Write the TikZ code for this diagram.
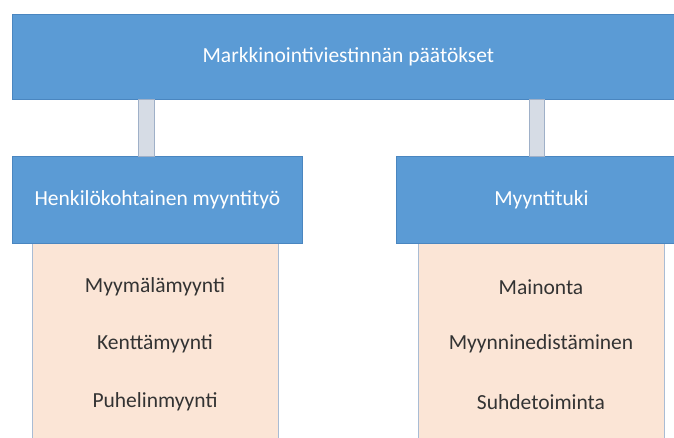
\documentclass[tikz,border=0pt]{standalone}
\usepackage{fontspec}
\setmainfont{Carlito}
\definecolor{hblue}{HTML}{5B9BD5}
\definecolor{hblueline}{HTML}{4A86C0}
\definecolor{barfill}{HTML}{D6DCE5}
\definecolor{barline}{HTML}{9FB0C8}
\definecolor{pinkfill}{HTML}{FBE5D6}
\definecolor{pinkline}{HTML}{A9BCD4}
\definecolor{itemtext}{HTML}{333333}
\tikzset{
  bluebox/.style={draw=hblueline, line width=0.8pt, fill=hblue, text=white, inner sep=0pt, font=\fontsize{21.5}{24}\selectfont},
  pinkbox/.style={draw=pinkline, line width=0.8pt, fill=pinkfill, inner sep=0pt},
  itemlabel/.style={text=itemtext, inner sep=0pt, font=\fontsize{21.5}{24}\selectfont},
  barstyle/.style={draw=barline, line width=0.8pt, fill=barfill}
}
\begin{document}
\begin{tikzpicture}[x=1pt, y=-1pt]
\useasboundingbox (0,0) rectangle (674,437);
\clip (0,0) rectangle (674,437);
% pink lists
\node[pinkbox, minimum width=246pt, minimum height=200pt, anchor=north west] (lp) at (32,243) {};
\node[pinkbox, minimum width=246pt, minimum height=200pt, anchor=north west] (rp) at (418,243) {};
% top box
\node[bluebox, minimum width=672pt, minimum height=85pt, anchor=north west] (top) at (12,14) {Markkinointiviestinnän päätökset};
% second level
\node[bluebox, minimum width=290pt, minimum height=87pt, anchor=north west] (hk) at (12,156) {Henkilökohtainen myyntityö};
\node[bluebox, minimum width=290pt, minimum height=87pt, anchor=north west] (mt) at (396,156) {Myyntituki};
% connectors (bars)
\draw[barstyle] (top.south -| 138,0) rectangle (hk.north -| 154,0);
\draw[barstyle] (top.south -| 529,0) rectangle (mt.north -| 544,0);
% items
\node[itemlabel] (l1) at (155,287) {Myymälämyynti};
\node[itemlabel] (l2) at (155,344) {Kenttämyynti};
\node[itemlabel] (l3) at (155,402) {Puhelinmyynti};
\node[itemlabel] (r1) at (541,287) {Mainonta};
\node[itemlabel] (r2) at (541,344) {Myynninedistäminen};
\node[itemlabel] (r3) at (541,402) {Suhdetoiminta};
\end{tikzpicture}
\end{document}
